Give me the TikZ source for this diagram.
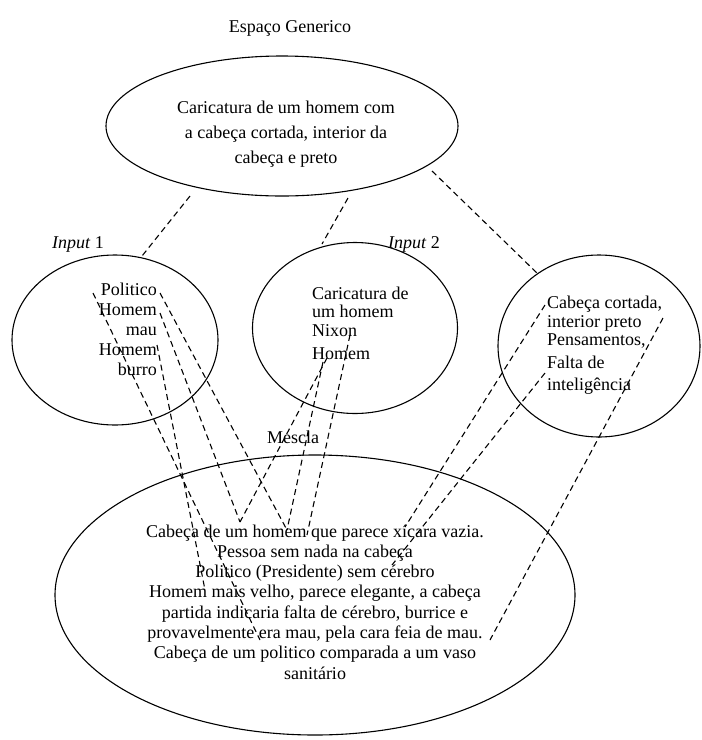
\documentclass[tikz,border=0pt]{standalone}
\usepackage{fontspec}
\setmainfont{Liberation Serif}
\usetikzlibrary{shapes.geometric}
\begin{document}
\begin{tikzpicture}[x=1pt,y=-1pt,
  space/.style={draw, ellipse, line width=1.1pt, inner sep=0pt},
  txt/.style={inner sep=0pt, font=\fontsize{18}{20}\selectfont},
  link/.style={line width=1.1pt, dash pattern=on 6pt off 4pt}]
\useasboundingbox[fill=white] (0,0) rectangle (702,740);

% mental spaces
\node[space, minimum width=352pt, minimum height=140pt] (gen) at (282,126) {};
\node[space, minimum width=206pt, minimum height=170pt] (in1) at (115,340) {};
\node[space, minimum width=205pt, minimum height=171pt] (in2) at (355,328) {};
\node[space, minimum width=202pt, minimum height=182pt] (in3) at (599,346) {};
\node[space, minimum width=520pt, minimum height=280pt] (blend) at (315,595) {};

% labels
\node[txt, anchor=base] (title) at (290,32) {Espaço Generico};
\node[txt, anchor=base] (lab1) at (78,248) {\textit{Input} 1};
\node[txt, anchor=base] (lab2) at (414,248) {\textit{Input} 2};
\node[txt, anchor=base] (lab3) at (293,443) {Mescla};

% generic space
\node[txt, anchor=base] (g1) at (286,113) {Caricatura de um homem com};
\node[txt, anchor=base] (g2) at (286,138) {a cabeça cortada, interior da};
\node[txt, anchor=base] (g3) at (286,163) {cabeça e preto};

% input 1
\node[txt, anchor=base east] (a1) at (157,295) {Politico};
\node[txt, anchor=base east] (a2) at (157,315) {Homem};
\node[txt, anchor=base east] (a3) at (157,335) {mau};
\node[txt, anchor=base east] (a4) at (157,355) {Homem};
\node[txt, anchor=base east] (a5) at (157,375) {burro};

% input 2
\node[txt, anchor=base west] (b1) at (312,299) {Caricatura de};
\node[txt, anchor=base west] (b2) at (312,317) {um homem};
\node[txt, anchor=base west] (b3) at (312,336) {Nixon};
\node[txt, anchor=base west] (b4) at (312,359) {Homem};

% input 3
\node[txt, anchor=base west] (c1) at (547,308) {Cabeça cortada,};
\node[txt, anchor=base west] (c2) at (547,327) {interior preto};
\node[txt, anchor=base west] (c3) at (547,345) {Pensamentos,};
\node[txt, anchor=base west] (c4) at (547,368) {Falta de};
\node[txt, anchor=base west] (c5) at (547,390) {inteligência};

% blend
\node[txt, anchor=base] (m1) at (315,537.0) {Cabeça de um homem que parece xícara vazia.};
\node[txt, anchor=base] (m2) at (315,557.3) {Pessoa sem nada na cabeça};
\node[txt, anchor=base] (m3) at (315,577.6) {Politico (Presidente) sem cérebro};
\node[txt, anchor=base] (m4) at (315,597.9) {Homem mais velho, parece elegante, a cabeça};
\node[txt, anchor=base] (m5) at (315,618.2) {partida indicaria falta de cérebro, burrice e};
\node[txt, anchor=base] (m6) at (315,638.5) {provavelmente era mau, pela cara feia de mau.};
\node[txt, anchor=base] (m7) at (315,658.8) {Cabeça de um politico comparada a um vaso};
\node[txt, anchor=base] (m8) at (315,679.1) {sanitário};

% connector ends
\coordinate (gA) at (190,196);  \coordinate (iA) at (142,256);
\coordinate (gB) at (348,198);  \coordinate (iB) at (322,244);
\coordinate (gC) at (432,171);  \coordinate (iC) at (537,273);

\coordinate (p1) at (93,293);   \coordinate (q1) at (260,640);
\coordinate (p2) at (160,293);  \coordinate (q2) at (287,530);
\coordinate (p3) at (160,313);  \coordinate (q3) at (240,522);
\coordinate (p4) at (157,345);  \coordinate (q4) at (205,590);
\coordinate (p5) at (327,358);
\coordinate (p6) at (323,362);
\coordinate (p7) at (350,335);  \coordinate (q7) at (307,535);
\coordinate (p8) at (545,305);  \coordinate (q8) at (405,527);
\coordinate (p9) at (545,373);  \coordinate (q9) at (392,565);
\coordinate (p10) at (663,318); \coordinate (q10) at (490,640);

% generic space to inputs
\draw[link] (gA) -- (iA);
\draw[link] (gB) -- (iB);
\draw[link] (gC) -- (iC);

% inputs to blend
\draw[link] (p1) -- (q1);
\draw[link] (p2) -- (q2);
\draw[link] (p3) -- (q3);
\draw[link] (p4) -- (q4);
\draw[link] (p5) -- (q3);
\draw[link] (p6) -- (q2);
\draw[link] (p7) -- (q7);
\draw[link] (p8) -- (q8);
\draw[link] (p9) -- (q9);
\draw[link] (p10) -- (q10);
\end{tikzpicture}
\end{document}
